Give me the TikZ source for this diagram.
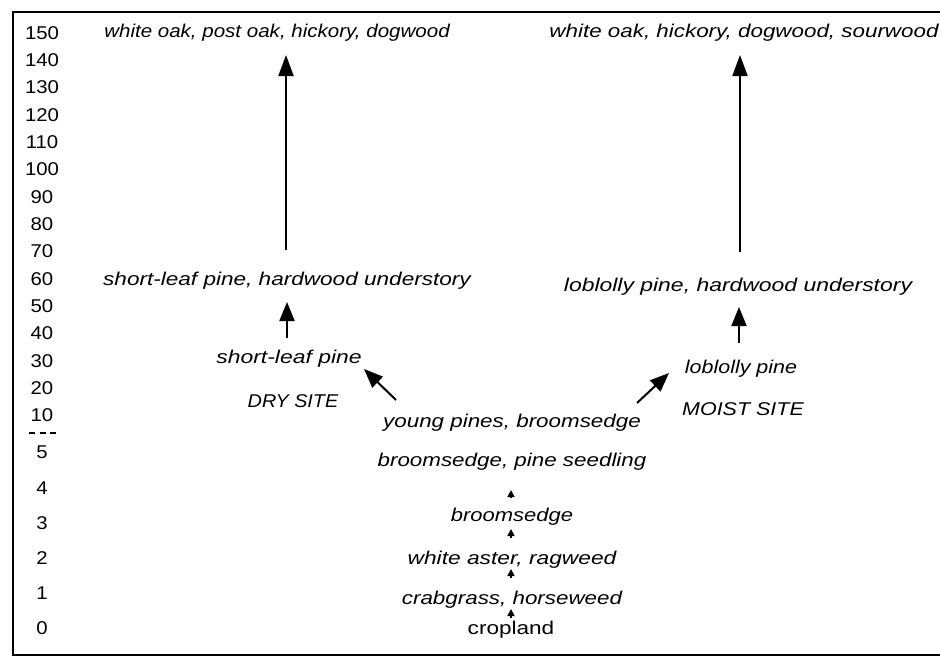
\documentclass[tikz,border=0pt]{standalone}
\usepackage{fontspec}
\setmainfont{Liberation Sans}
\usetikzlibrary{arrows.meta}
% text widened horizontally by a given factor
\newcommand{\widetext}[2]{\scalebox{#1}[1]{#2}}
\begin{document}
\begin{tikzpicture}[x=1pt,y=-1pt,
  every node/.style={inner sep=0pt,outer sep=0pt, anchor=center},
  yr/.style={font=\fontsize{18.5}{20}\selectfont},
  stage/.style={font=\fontsize{18.5}{20}\selectfont\itshape},
  plain/.style={font=\fontsize{18.5}{20}\selectfont},
  bigarrow/.style={line width=2pt,-{Triangle[width=15pt,length=21pt]}},
  midarrow/.style={line width=2pt,-{Triangle[width=15pt,length=19pt]}},
  smallarrow/.style={line width=1.5pt,-{Triangle[width=7pt,length=7pt]}}]
\useasboundingbox (0,0) rectangle (940,664);
% frame, open to the right
\draw[line width=2.4pt] (960,12) -- (13,12) -- (13,655) -- (960,655);
% time axis (years)
\foreach \v/\y in {150/33,140/60,130/87,120/115,110/142,100/169,90/197,80/224,
                   70/251,60/279,50/306,40/333,30/361,20/388,10/415,
                   5/452,4/488,3/523,2/558,1/593,0/628}
  \node[yr] (y\v) at (42,\y) {\widetext{1.10}{\v}};
\draw[line width=1.8pt, dash pattern=on 6pt off 4.5pt] (y10.center) ++(-13,18) coordinate (d1) -- ++(28,0) coordinate (d2);
% stages
\node[stage] (oakL)  at (277,33)  {\widetext{1.11}{white oak, post oak, hickory, dogwood}};
\node[stage] (oakR)  at (744,33)  {\widetext{1.21}{white oak, hickory, dogwood, sourwood}};
\node[stage] (slhw)  at (287,281) {\widetext{1.22}{short-leaf pine, hardwood understory}};
\node[stage] (lbhw)  at (738,287) {\widetext{1.24}{loblolly pine, hardwood understory}};
\node[stage] (sl)    at (289,359) {\widetext{1.24}{short-leaf pine}};
\node[stage] (dry)   at (293,401) {\widetext{1.07}{DRY SITE}};
\node[stage] (lb)    at (741,369) {\widetext{1.16}{loblolly pine}};
\node[stage] (moist) at (743,409) {\widetext{1.16}{MOIST SITE}};
\node[stage] (yp)    at (512,423) {\widetext{1.21}{young pines, broomsedge}};
\node[stage] (bps)   at (512,462) {\widetext{1.21}{broomsedge, pine seedling}};
\node[stage] (bs)    at (512,517) {\widetext{1.19}{broomsedge}};
\node[stage] (wa)    at (512,560) {\widetext{1.23}{white aster, ragweed}};
\node[stage] (cg)    at (512,600) {\widetext{1.21}{crabgrass, horseweed}};
\node[plain] (crop)  at (511,630) {\widetext{1.22}{cropland}};
% succession arrows
\coordinate (aL1) at (286,250); \coordinate (aL2) at (286,55);
\coordinate (aR1) at (740,252); \coordinate (aR2) at (740,55);
\draw[bigarrow] (aL1) -- (aL2);
\draw[bigarrow] (aR1) -- (aR2);
\coordinate (mL1) at (287,338); \coordinate (mL2) at (287,302);
\coordinate (mR1) at (739,343); \coordinate (mR2) at (739,307);
\draw[midarrow] (mL1) -- (mL2);
\draw[midarrow] (mR1) -- (mR2);
\coordinate (dL1) at (396,400); \coordinate (dL2) at (364,369);
\coordinate (dR1) at (637,403); \coordinate (dR2) at (669,373);
\draw[midarrow] (dL1) -- (dL2);
\draw[midarrow] (dR1) -- (dR2);
\foreach \a/\b in {498/490,538/529,578/569,618/609}
  \draw[smallarrow] (511,\a) -- (511,\b);
\end{tikzpicture}
\end{document}
